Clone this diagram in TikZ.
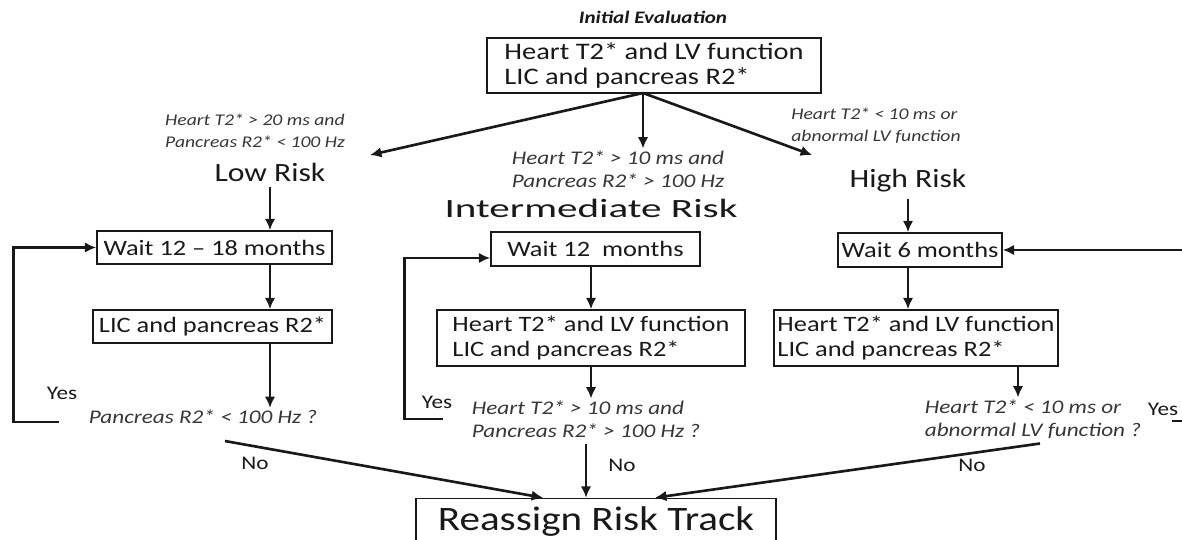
\documentclass[tikz,border=0pt]{standalone}
\usepackage{fontspec}
\setmainfont{Carlito}[FakeStretch=1.2]
\usetikzlibrary{positioning}
\usetikzlibrary{calc}
\usetikzlibrary{arrows.meta}
\definecolor{ink}{RGB}{25,25,25}
\definecolor{note}{RGB}{55,55,55}

\tikzset{
  stagebox/.style={draw=ink, line width=0.9pt, inner sep=2pt, align=left,
    font=\fontsize{12.5}{14}\selectfont, text=ink},
  risk/.style={font=\fontsize{15}{18}\selectfont, text=ink},
  cond/.style={font=\itshape\fontsize{11}{13}\selectfont, text=note, align=left, inner sep=1pt},
  topcond/.style={cond, font=\itshape\fontsize{9.3}{12.5}\selectfont},
  answer/.style={font=\fontsize{11}{13}\selectfont, text=ink},
  flow/.style={->, line width=1.5pt, draw=ink},
}

\begin{document}
\begin{tikzpicture}[>={Latex[length=6.5pt,width=6pt]}, x=0.02cm, y=-0.02cm]
    \useasboundingbox (0,0) rectangle (1182,540);

    % Initial evaluation
    \node[font=\bfseries\itshape\fontsize{10}{12}\selectfont, text=ink] (title) at (653,17) {Initial Evaluation};
    \node[stagebox, font=\fontsize{13.5}{14}\selectfont, minimum width=6.68cm, minimum height=1.1cm] (init) at (654,65.5) {Heart T2* and LV function\\LIC and pancreas R2*};
    \coordinate (split) at (643,93);

    % Branch conditions
    \node[topcond] (lowcond) at (255,131) {Heart T2* > 20 ms and\\Pancreas R2* < 100 Hz};
    \node[cond] (midcond) at (618,169) {Heart T2* > 10 ms and\\Pancreas R2* > 100 Hz};
    \node[topcond] (highcond) at (876,126) {Heart T2* < 10 ms or\\abnormal LV function};

    % Risk tracks
    \node[risk] (low) at (270,172) {Low Risk};
    \node[risk] (mid) at (591,208) {\scalebox{1.3}[1]{Intermediate Risk}};
    \node[risk] (high) at (908,181) {High Risk};
    \coordinate (lowtip) at (370,155);
    \coordinate (hightip) at (812,155);

    \draw[flow] (split) -- (lowtip);
    \draw[flow] (split) -- (split |- midcond.north);
    \draw[flow] (split) -- (hightip);

    % Waiting periods
    \node[stagebox, minimum width=4.7cm, minimum height=0.66cm] (wait1) at (214.5,247.5) {Wait 12 -- 18 months};
    \node[stagebox, minimum width=4.18cm, minimum height=0.68cm] (wait2) at (595.5,249) {Wait 12~ months};
    \node[stagebox, minimum width=3.28cm, minimum height=0.68cm] (wait3) at (920,250) {Wait 6 months};

    \draw[flow] (low.south) -- (low.south |- wait1.north);
    \draw[flow] (high.south) -- (high.south |- wait3.north);

    % Follow-up scans
    \node[stagebox, minimum width=4.78cm, minimum height=0.66cm] (scan1) at (212.5,326.5) {LIC and pancreas R2*};
    \node[stagebox, minimum width=6.16cm, minimum height=1.12cm] (scan2) at (591,338) {Heart T2* and LV function\\LIC and pancreas R2*};
    \node[stagebox, minimum width=5.64cm, minimum height=1.12cm] (scan3) at (916,338) {Heart T2* and LV function\\LIC and pancreas R2*};

    \draw[flow] (wait1.south -| low) -- (scan1.north -| low);
    \draw[flow] (wait2.south -| scan2) -- (scan2.north);
    \draw[flow] (wait3.south -| high) -- (scan3.north -| high);

    % Checks
    \node[cond] (q1) at (203,417) {Pancreas R2* < 100 Hz ?};
    \node[cond] (q2) at (586,419) {Heart T2* > 10 ms and\\Pancreas R2* > 100 Hz ?};
    \node[cond] (q3) at (1033,419) {Heart T2* < 10 ms or\\abnormal LV function ?};
    \coordinate (q3in) at ([xshift=-0.3cm]q3.north);

    \draw[flow] (scan1.south -| low) -- (q1.north -| low);
    \draw[flow] (scan2.south) -- (scan2.south |- q2.north);
    \draw[flow] (scan3.south -| q3in) -- (q3in);

    % Yes: repeat the track
    \node[answer] (yes1) at (62,393) {Yes};
    \node[answer] (yes2) at (437,402) {Yes};
    \node[answer] (yes3) at (1163,409) {Yes};
    \coordinate (back3) at (1172,421);

    \draw[flow] ([shift={(-0.56cm,-0.1cm)}]q1.west) -- ++(-45,0) |- (wait1.west);
    \draw[flow] ([xshift=-0.54cm]q2.west) -- ++(-38,0) |- ([yshift=-0.18cm]wait2.west);
    \draw[flow] (back3) -- ++(13,0) |- (wait3.east);

    % No: reassign
    \node[stagebox, font=\fontsize{19.5}{22}\selectfont, minimum width=7.2cm, minimum height=0.94cm] (reassign) at (596,522) {Reassign Risk Track};

    \draw[flow] ([shift={(0.44cm,-0.3cm)}]q1.south) -- ([xshift=-1.06cm]reassign.north);
    \draw[flow] ([yshift=-0.1cm]q2.south) -- (q2.south |- reassign.north);
    \draw[flow] ([shift={(0.14cm,-0.06cm)}]q3.south) -- ([xshift=1.18cm]reassign.north);

    \node[answer] (no1) at (255,463) {No};
    \node[answer] (no2) at (622,465) {No};
    \node[answer] (no3) at (972,465) {No};
\end{tikzpicture}
\end{document}
